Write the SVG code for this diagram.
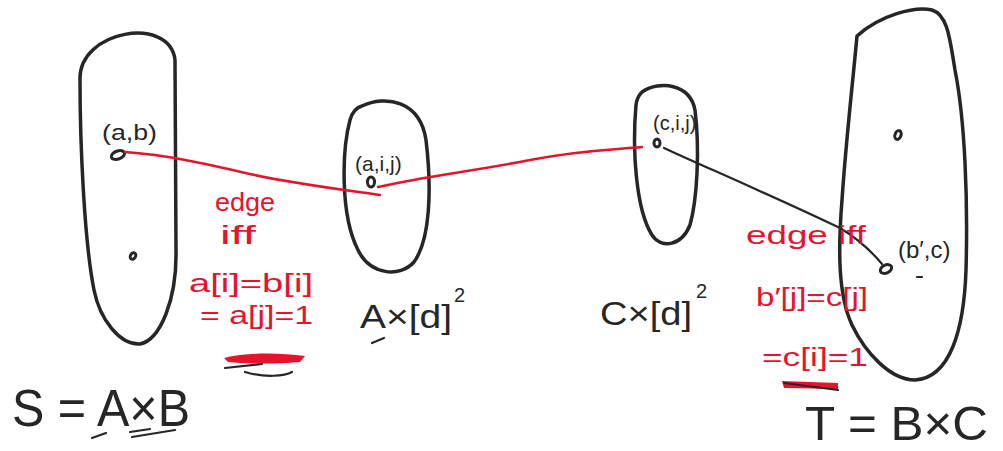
<svg xmlns="http://www.w3.org/2000/svg" width="1003" height="451" viewBox="0 0 1003 451">
<style>
.blob{fill:none;stroke:#262626;stroke-width:3.5;stroke-linecap:round;stroke-linejoin:round}
.dot{fill:none;stroke:#262626;stroke-width:3}
.red{fill:none;stroke:#e4142c;stroke-width:2.5;stroke-linecap:round}
.blk{fill:none;stroke:#262626;stroke-width:2.2;stroke-linecap:round}
.t{font-family:"Liberation Sans",Arial,sans-serif;fill:#262626}
.r{font-family:"Liberation Sans",Arial,sans-serif;fill:#e4142c}
</style>
<rect width="1003" height="451" fill="#fff"/>
<g id="S">
<path class="blob" d="M80,80 C78,30 170,15 175,60 L176,250 C177,300 160,340 140,344 C120,345 100,320 94,290 C84,240 80,140 80,80 Z"/>
<ellipse class="dot" cx="118" cy="155" rx="7" ry="4" transform="rotate(-20 118 155)"/>
<ellipse class="dot" cx="133" cy="256" rx="2.5" ry="3.5" transform="rotate(30 133 256)"/>
<text class="t" x="102" y="140" font-size="22" textLength="55" lengthAdjust="spacingAndGlyphs">(a,b)</text>
<text class="t" x="12" y="426" font-size="52" textLength="178" lengthAdjust="spacingAndGlyphs">S = A×B</text>
<path class="blk" d="M92,438 L106,433 M130,432 L150,429 M132,437 L175,430"/>
</g>
<g id="AD">
<path class="blob" d="M362,106 C385,95 420,100 426,140 C432,190 430,240 414,262 C400,278 370,275 358,250 C340,215 342,150 350,120 C353,110 358,107 362,106 Z"/>
<ellipse class="dot" cx="371" cy="182" rx="3.5" ry="5"/>
<text class="t" x="355" y="171" font-size="21">(a,i,j)</text>
<text class="t" x="360" y="328" font-size="34" textLength="92" lengthAdjust="spacingAndGlyphs">A×[d]</text>
<text class="t" x="454" y="302" font-size="20">2</text>
<path class="blk" d="M372,343 L384,338"/>
</g>
<g id="CD">
<path class="blob" d="M642,92 C660,80 690,84 695,110 C700,150 697,200 690,225 C682,245 662,250 652,235 C636,210 632,150 636,105 C637,97 640,94 642,92 Z"/>
<ellipse class="dot" cx="657" cy="143" rx="3" ry="4"/>
<text class="t" x="653" y="130" font-size="20">(c,i,j)</text>
<text class="t" x="600" y="325" font-size="34" textLength="92" lengthAdjust="spacingAndGlyphs">C×[d]</text>
<text class="t" x="696" y="298" font-size="20">2</text>
</g>
<g id="T">
<path class="blob" d="M857,36 C880,15 915,6 932,10 C948,15 950,40 955,70 C965,120 968,200 966,270 C964,330 950,378 915,380 C890,380 865,352 852,325 C838,295 838,250 842,200 C846,140 853,80 857,36 Z"/>
<ellipse class="dot" cx="898" cy="135" rx="3" ry="4.5" transform="rotate(20 898 135)"/>
<ellipse class="dot" cx="886" cy="269" rx="6" ry="4" transform="rotate(-25 886 269)"/>
<text class="t" x="898" y="258" font-size="24">(b′,c)</text>
<path class="blk" d="M917,277 L922,277"/>
<text class="t" x="805" y="440" font-size="48" textLength="183" lengthAdjust="spacingAndGlyphs">T = B×C</text>
</g>
<g id="connectors">
<path class="red" d="M125,152 C170,155 210,165 250,174 C290,183 330,188 380,195"/>
<path class="red" d="M378,187 C430,175 470,172 530,160 C580,150 610,150 642,147"/>
<path class="blk" d="M664,148 C700,165 760,190 840,228 C860,240 872,252 882,264"/>
</g>
<g id="labels">
<text class="r" x="215" y="211" font-size="26" textLength="60" lengthAdjust="spacingAndGlyphs">edge</text>
<text class="r" x="220" y="244" font-size="26" textLength="36" lengthAdjust="spacingAndGlyphs">iff</text>
<text class="r" x="189" y="292" font-size="26" textLength="124" lengthAdjust="spacingAndGlyphs">a[i]=b[i]</text>
<text class="r" x="200" y="324" font-size="26" textLength="113" lengthAdjust="spacingAndGlyphs">= a[j]=1</text>
<path d="M224,358 C250,352 280,353 305,356 L300,362 C275,364 245,364 228,362 Z" fill="#e4142c"/>
<path class="blk" d="M225,368 L262,364 M245,372 C265,378 285,376 292,372"/>
<text class="r" x="746" y="244" font-size="26" textLength="120" lengthAdjust="spacingAndGlyphs">edge iff</text>
<text class="r" x="756" y="306" font-size="26" textLength="112" lengthAdjust="spacingAndGlyphs">b′[j]=c[j]</text>
<text class="r" x="762" y="366" font-size="26" textLength="106" lengthAdjust="spacingAndGlyphs">=c[i]=1</text>
<path d="M782,381 L838,383 L838,389 L784,388 Z" fill="#e4142c"/>
<path class="blk" d="M784,383 L838,390"/>
</g>
</svg>
